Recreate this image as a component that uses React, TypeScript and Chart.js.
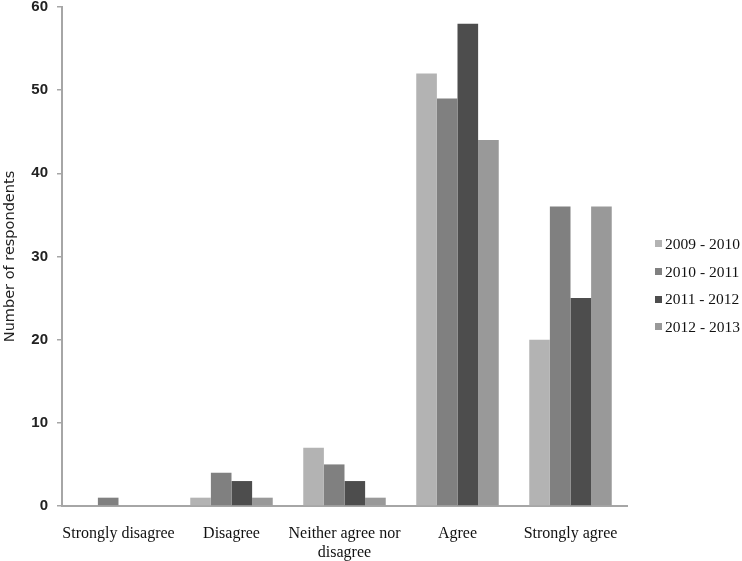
import React, { useEffect, useRef } from "react";
import { Chart, registerables } from "chart.js";

Chart.register(...registerables);

const categories: string[][] = [
  ["Strongly disagree"],
  ["Disagree"],
  ["Neither agree nor", "disagree"],
  ["Agree"],
  ["Strongly agree"],
];
const seriesLabels = ["2009 - 2010", "2010 - 2011", "2011 - 2012", "2012 - 2013"];
const values2009 = [0, 1, 7, 52, 20];
const values2010 = [1, 4, 5, 49, 36];
const values2011 = [0, 3, 3, 58, 25];
const values2012 = [0, 1, 1, 44, 36];
const seriesColors = ["#b3b3b3", "#808080", "#4d4d4d", "#999999"];
const yMax = 60;
const yStep = 10;
const yTitle = "Number of respondents";

export default function App() {
  const canvasRef = useRef<HTMLCanvasElement | null>(null);

  useEffect(() => {
    document.body.style.margin = "0";
    const canvas = canvasRef.current;
    if (!canvas) return;
    const series = [values2009, values2010, values2011, values2012];
    const chart = new Chart(canvas, {
      type: "bar",
      data: {
        labels: categories,
        datasets: series.map((vals, i) => ({
          label: seriesLabels[i],
          data: vals,
          backgroundColor: seriesColors[i],
          borderWidth: 0,
          categoryPercentage: 0.73,
          barPercentage: 1.0,
        })),
      },
      options: {
        animation: false,
        responsive: false,
        devicePixelRatio: 1,
        layout: { padding: { top: 0, right: 115, left: 0, bottom: 0 } },
        plugins: {
          legend: { display: false },
          tooltip: { enabled: false },
        },
        scales: {
          x: {
            grid: { display: false },
            border: { display: true, color: "#a6a6a6", width: 2 },
            ticks: {
              color: "#111",
              font: { family: "'Liberation Serif', 'Times New Roman', serif", size: 16 },
              padding: 10,
              maxRotation: 0,
              autoSkip: false,
            },
            afterFit: (s: any) => {
              s.height = 55;
              s.paddingLeft = 0;
              s.paddingRight = 0;
            },
          },
          y: {
            min: 0,
            max: yMax,
            ticks: {
              stepSize: yStep,
              color: "#222",
              font: { family: "'Liberation Sans', Arial, sans-serif", size: 15, weight: "bold" },
              padding: 9,
            },
            grid: { drawOnChartArea: false, drawTicks: true, tickLength: 5, color: "#a6a6a6", lineWidth: 1.5 },
            border: { display: true, color: "#a6a6a6", width: 2 },
            title: {
              display: true,
              text: yTitle,
              color: "#222",
              font: { family: "'DejaVu Sans', sans-serif", size: 14.5 },
              padding: { top: 2, bottom: 0 },
            },
            afterFit: (s: any) => {
              s.width = 62;
              s.paddingTop = 7;
              s.paddingBottom = 0;
            },
          },
        },
      },
    });
    return () => chart.destroy();
  }, []);

  return (
    <div style={{ position: "relative", width: 742, height: 561, background: "#fff" }}>
      <canvas ref={canvasRef} width={742} height={561} style={{ display: "block" }} />
      <div
        style={{
          position: "absolute",
          left: 655,
          top: 230,
          fontFamily: "'Liberation Serif', 'Times New Roman', serif",
          fontSize: 15.5,
          color: "#111",
          whiteSpace: "nowrap",
        }}
      >
        {seriesLabels.map((lab, i) => (
          <div key={lab} style={{ display: "flex", alignItems: "center", height: 27.7, whiteSpace: "nowrap" }}>
            <span
              style={{
                display: "inline-block",
                width: 7,
                height: 7,
                flex: "none",
                background: seriesColors[i],
                marginRight: 3,
              }}
            />
            <span>{lab}</span>
          </div>
        ))}
      </div>
    </div>
  );
}
